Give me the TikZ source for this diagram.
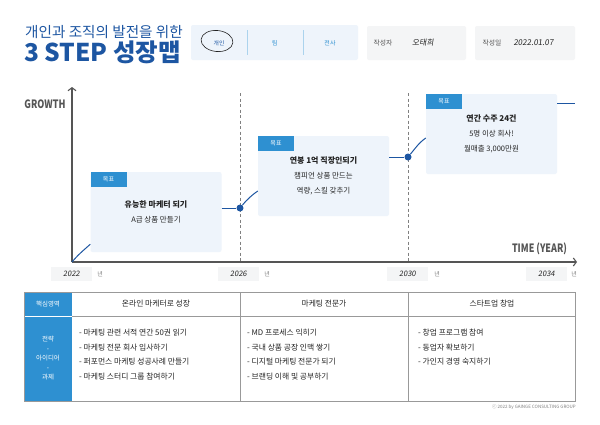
\documentclass[tikz,border=0pt]{standalone}
\usepackage{fontspec}
\usepackage{graphicx}
\setmainfont{Noto Sans CJK KR}
\newfontfamily\handfont[FakeSlant=0.15]{Noto Sans CJK KR}
\usetikzlibrary{positioning,arrows.meta}
\definecolor{stepBlue}{RGB}{29,86,162}
\definecolor{stepTab}{RGB}{46,144,209}
\definecolor{stepSoft}{RGB}{238,244,251}
\definecolor{stepGrey}{RGB}{244,245,246}
\definecolor{stepInk}{RGB}{35,35,35}
\definecolor{stepAxis}{RGB}{85,85,85}

\begin{document}
\begin{tikzpicture}[x=1pt,y=-1pt,
    card/.style={fill=stepSoft, rounded corners=2pt, minimum width=131pt,
      minimum height=80pt, align=center, text=stepInk, inner sep=0pt,
      font=\fontsize{7.5}{15}\selectfont},
    tab/.style={fill=stepTab, text=white, minimum width=36pt, minimum height=15pt,
      inner sep=0pt, anchor=north west, font=\fontsize{6}{7}\selectfont},
    infobox/.style={fill=stepGrey, rounded corners=2pt, minimum height=34pt,
      inner sep=0pt},
    yearbox/.style={fill=stepGrey, minimum width=41pt, minimum height=14pt,
      inner sep=0pt, font=\handfont\fontsize{7.5}{8}\selectfont, text=stepInk},
    unit/.style={inner sep=0pt, text=gray, font=\fontsize{6}{7}\selectfont},
    growth/.style={draw=stepBlue, line width=1pt},
    dot/.style={circle, fill=stepBlue, minimum size=7pt, inner sep=0pt},
    axis/.style={draw=stepAxis, line width=1.1pt},
    guide/.style={draw=gray, line width=1pt, dash pattern=on 3pt off 2.5pt},
    cell/.style={inner sep=0pt, text=stepInk, font=\fontsize{7.8}{14.5}\selectfont},
    item/.style={cell, align=left, anchor=north west}
  ]
    \useasboundingbox (0,0) rectangle (600,424);
    \fill[white] (0,0) rectangle (600,424);

    % title
    \node[anchor=west, inner sep=0pt, text=stepBlue, font=\fontsize{14.6}{16}\selectfont]
      (subtitle) at (25,32) {개인과 조직의 발전을 위한};
    \node[anchor=west, inner sep=0pt, text=stepBlue, font=\bfseries\fontsize{24.5}{26}\selectfont]
      (title) at (24,52) {3 STEP 성장맵};

    % header boxes
    \node[infobox, fill=stepSoft, minimum width=167pt, minimum height=35pt]
      (levelbox) at (274.5,42.5) {};
    \node[inner sep=0pt, text=stepBlue, font=\fontsize{5.8}{6}\selectfont] (person) at (219,43) {개인};
    \node[inner sep=0pt, text=stepTab, font=\fontsize{6}{6}\selectfont] (team) at (275,43) {팀};
    \node[inner sep=0pt, text=stepTab, font=\fontsize{6}{6}\selectfont] (company) at (330,43) {전사};
    \draw[stepTab!40, line width=0.8pt] (247,30) -- (247,55);
    \draw[stepTab!40, line width=0.8pt] (303,30) -- (303,55);
    \draw[stepInk, line width=0.6pt, rotate around={-6:(217,41)}]
      (217,41) ellipse [x radius=16, y radius=10.5];

    \node[infobox, minimum width=99pt] (authorbox) at (416.5,43) {};
    \node[unit, text=stepAxis, font=\fontsize{6.8}{7}\selectfont] (authorkey) at (383,43) {작성자};
    \node[unit, text=stepInk, font=\handfont\fontsize{7.8}{8}\selectfont] (author) at (423,43) {오태희};
    \node[infobox, minimum width=100pt] (datebox) at (525,43) {};
    \node[unit, text=stepAxis, font=\fontsize{6.8}{7}\selectfont] (datekey) at (492,43) {작성일};
    \node[unit, text=stepInk, font=\handfont\fontsize{8}{8}\selectfont] (date) at (533.5,43) {2022.01.07};

    % chart axes
    \coordinate (origin) at (72,262);
    \coordinate (ytop) at (72,87);
    \coordinate (xend) at (577,262);
    \draw[guide] (240,93) -- (240,262);
    \draw[guide] (408,93) -- (408,262);
    \draw[axis, -{Straight Barb[length=3pt,width=8pt]}] (origin) -- (ytop);
    \draw[axis, -{Straight Barb[length=3pt,width=8pt]}] (origin) -- (xend);
    \node[inner sep=0pt, text=stepAxis, font=\bfseries\fontsize{11.5}{12}\selectfont]
      (growthlabel) at (45,104) {\scalebox{0.78}[1]{GROWTH}};
    \node[inner sep=0pt, text=stepAxis, font=\bfseries\fontsize{11.5}{12}\selectfont]
      (timelabel) at (539.5,249) {\scalebox{0.78}[1]{TIME (YEAR)}};

    % years
    \node[yearbox] (y2022) at (71.5,274) {2022};
    \node[unit, right=5pt of y2022] {년};
    \node[yearbox] (y2026) at (238.5,274) {2026};
    \node[unit, right=5pt of y2026] {년};
    \node[yearbox] (y2030) at (407.5,274) {2030};
    \node[unit, right=6pt of y2030] {년};
    \node[yearbox] (y2034) at (546.5,274) {2034};
    \node[unit, right=4pt of y2034] {년};

    % goal cards
    \node[card] (card1) at (156,212) {\textbf{\fontsize{8}{15}\selectfont 유능한 마케터 되기}\\ A급 상품 만들기};
    \node[tab] at (card1.north west) {목표};
    \node[card] (card2) at (323.5,176) {\textbf{\fontsize{8}{15}\selectfont 연봉 1억 직장인되기}\\ 챔피언 상품 만드는\\ 역량, 스킬 갖추기};
    \node[tab] at (card2.north west) {목표};
    \node[card] (card3) at (491.5,134) {\textbf{\fontsize{8}{15}\selectfont 연간 수주 24건}\\ 5명 이상 회사!\\ 월매출 3,000만원};
    \node[tab] at (card3.north west) {목표};

    % growth line
    \node[dot] (dot1) at (240,208) {};
    \node[dot] (dot2) at (408,157) {};
    \coordinate (growthend) at (575,103);
    \draw[growth] (origin) to[out=50, in=222] ([yshift=8pt]card1.south west);
    \draw[growth] (card1.east |- dot1) -- (dot1);
    \draw[growth] (dot1) to[out=50, in=215] ([yshift=-15pt]card2.west);
    \draw[growth] (card2.east |- dot2) -- (dot2);
    \draw[growth] (dot2) to[out=50, in=215] ([yshift=-4pt]card3.west);
    \draw[growth] (card3.east |- growthend) -- (growthend);

    % table
    \fill[stepTab] (24,292) rectangle (72,401);
    \draw[white, line width=0.8pt] (24,316) -- (72,316);
    \draw[gray!80, line width=0.9pt] (72,316) -- (575,316);
    \draw[gray!80, line width=0.9pt] (240,292) -- (240,401);
    \draw[gray!80, line width=0.9pt] (408,292) -- (408,401);
    \draw[gray!80, line width=0.9pt] (24,292) rectangle (575,401);

    \node[cell, text=white, font=\fontsize{6.5}{8}\selectfont] (areakey) at (48,304) {핵심영역};
    \node[cell] (area1) at (156,304) {온라인 마케터로 성장};
    \node[cell] (area2) at (324,304) {마케팅 전문가};
    \node[cell] (area3) at (492,304) {스타트업 창업};

    \node[cell, text=white, align=center, font=\fontsize{6.5}{9.5}\selectfont]
      (taskkey) at (48,358) {전략\\{\fontsize{4}{9.5}\selectfont •}\\아이디어\\{\fontsize{4}{9.5}\selectfont •}\\과제};
    \node[item] (tasks1) at (79,329) {
      - 마케팅 관련 서적 연간 50권 읽기\\
      - 마케팅 전문 회사 입사하기\\
      - 퍼포먼스 마케팅 성공사례 만들기\\
      - 마케팅 스터디 그룹 참여하기
    };
    \node[item] (tasks2) at (247,329) {
      - MD 프로세스 익히기\\
      - 국내 상품 공장 인맥 쌓기\\
      - 디지털 마케팅 전문가 되기\\
      - 브랜딩 이해 및 공부하기
    };
    \node[item] (tasks3) at (418,329) {
      - 창업 프로그램 참여\\
      - 동업자 확보하기\\
      - 가인지 경영 숙지하기
    };

    \node[anchor=east, inner sep=0pt, text=gray, font=\fontsize{4.5}{5}\selectfont]
      (copyright) at (576,407) {ⓒ 2022 by GAINGE CONSULTING GROUP};
  \end{tikzpicture}
\end{document}
